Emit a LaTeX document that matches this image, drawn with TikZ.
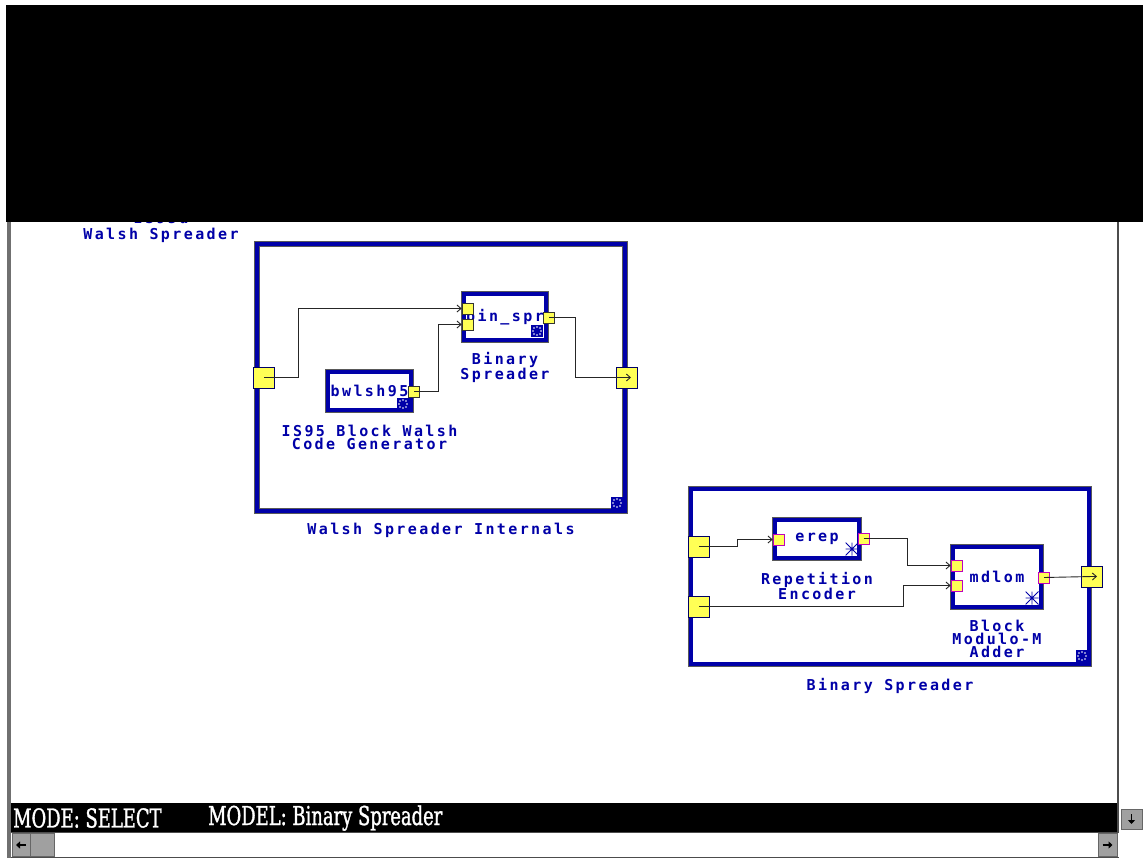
\documentclass[tikz,border=0pt]{standalone}
\usepackage{fontspec}
\usepackage{xcolor}
\usepackage{tikz}
\usetikzlibrary{positioning,arrows.meta,calc}
\newfontfamily\pixfont[LetterSpace=16]{DejaVu Sans Mono Bold}
\newfontfamily\barfont[FakeStretch=0.69, FakeBold=1.2]{DejaVu Serif}
\definecolor{sysblue}{RGB}{0,0,168}
\definecolor{portyellow}{RGB}{255,255,85}
\definecolor{portpink}{RGB}{190,0,190}
\definecolor{chrome}{RGB}{160,160,160}

\begin{document}
\begin{tikzpicture}[
    x=1pt, y=-1pt,
    font=\pixfont\fontsize{15}{13}\selectfont,
    frame_box/.style={draw=gray!70!black, double=sysblue, double distance=4pt, line width=0.7pt, fill=white, inner sep=0pt, outer sep=0pt, text=sysblue},
    big_port/.style={draw=sysblue!60!black, fill=portyellow, minimum size=21pt, inner sep=0pt, line width=0.7pt},
    small_port/.style={draw=black!80, fill=portyellow, minimum size=11pt, inner sep=0pt, line width=0.7pt},
    pink_port/.style={small_port, draw=portpink},
    lbl/.style={text=sysblue, align=center, inner sep=0pt},
    icon/.style={fill=sysblue, minimum size=12pt, inner sep=0pt,
        path picture={\foreach \dx/\dy in {-3/-3,3/-3,-3/3,3/3,0/-4,0/4,-4/0,4/0}
            \fill[white] ($(path picture bounding box.center)+(\dx,\dy)$) circle (0.9pt);}},
    asterisk/.style={minimum size=13pt, inner sep=0pt,
        path picture={\draw[sysblue, line width=0.8pt]
            (path picture bounding box.north) -- (path picture bounding box.south)
            (path picture bounding box.west) -- (path picture bounding box.east)
            (path picture bounding box.north west) -- (path picture bounding box.south east)
            (path picture bounding box.north east) -- (path picture bounding box.south west);}},
    wire/.style={draw=black!85, line width=0.9pt, -{Straight Barb[length=4pt,width=7pt]}}
]
\useasboundingbox (0,0) rectangle (1143,860);
\fill[white] (0,0) rectangle (1143,860);

% clipped title of the parent model
\node (parentTop) [lbl] at (161,217.5) {IS95d};
\node (parentName) [lbl] at (161,235) {Walsh Spreader};

% window chrome
\fill[black] (6,5) rectangle (1143,222);
\fill[chrome!70!black] (7,222) rectangle (11,858);
\fill[black!70] (1117,222) rectangle (1119,832);
\fill[black] (11,803) rectangle (1117,832);
\node (modeText) [anchor=west, text=white, inner sep=0pt, font=\barfont\fontsize{26}{26}\selectfont] at (13,818) {MODE: SELECT};
\node (modelText) [anchor=west, text=white, inner sep=0pt, font=\barfont\fontsize{26}{26}\selectfont] at (208,818) {MODEL: Binary Spreader};
\draw[black!70, line width=0.8pt] (11,832) -- (1119,832) (11,857) -- (1119,857);
\node (btnDown) [fill=chrome, draw=black!60, minimum width=21pt, minimum height=20pt, inner sep=0pt] at (1131.5,819) {};
\draw[-{Triangle[length=4pt,width=7pt]}, line width=1.6pt] ([yshift=5pt]btnDown.center) -- ([yshift=-5pt]btnDown.center);
\node (btnLeft) [fill=chrome, draw=black!60, minimum width=18pt, minimum height=23pt, inner sep=0pt] at (21,845) {};
\draw[-{Triangle[length=4pt,width=7pt]}, line width=1.6pt] ([xshift=5pt]btnLeft.center) -- ([xshift=-5pt]btnLeft.center);
\node (thumb) [fill=chrome, draw=black!60, minimum width=24pt, minimum height=23pt, inner sep=0pt, right=0pt of btnLeft] {};
\node (btnRight) [fill=chrome, draw=black!60, minimum width=19pt, minimum height=23pt, inner sep=0pt] at (1107.5,845) {};
\draw[-{Triangle[length=4pt,width=7pt]}, line width=1.6pt] ([xshift=-5pt]btnRight.center) -- ([xshift=5pt]btnRight.center);

% Walsh Spreader Internals
\node (wsi) [frame_box, minimum width=368pt, minimum height=267pt] at (441,377.5) {};
\node (wsiLabel) [lbl, below=11.7pt of wsi] {Walsh Spreader Internals};
\node (wsiIcon) [icon] at (617,503) {};

\node (binspr) [frame_box, minimum width=82.6pt, minimum height=46.6pt] at (505,317) {bin\_spr};
\node (binsprLabel) [lbl, below=11.7pt of binspr] {Binary\\Spreader};
\node (binsprIcon) [icon] at (537,331) {};

\node (bwlsh) [frame_box, minimum width=83.6pt, minimum height=38.6pt] at (369.5,391) {bwlsh95};
\node (bwlshLabel) [lbl, below=14.7pt of bwlsh] {IS95 Block Walsh\\Code Generator};
\node (bwlshIcon) [icon] at (403,404) {};

\node (wsiIn) [big_port] at (264,377.5) {};
\node (wsiOut) [big_port] at (627,377.5) {};
\node (bsIn1) [small_port] at (467.5,308.5) {};
\node (bsIn2) [small_port] at (467.5,324.5) {};
\node (bsOut) [small_port] at (549,317.5) {};
\node (bwOut) [small_port] at (414,391.5) {};

\draw [wire] (wsiIn.center) -- ++(34,0) |- (bsIn1.west);
\draw [wire] (bwOut.center) -- ++(24,0) |- (bsIn2.west);
\draw [wire, shorten >=-4pt] (bsOut.center) -- ++(26,0) |- (wsiOut.center);

% Binary Spreader
\node (bsx) [frame_box, minimum width=398.6pt, minimum height=175.6pt] at (890,576.5) {};
\node (bsxLabel) [lbl, below=13.7pt of bsx] {Binary Spreader};
\node (bsxIcon) [icon] at (1082,656) {};

\node (erep) [frame_box, minimum width=84.6pt, minimum height=38.6pt] at (817,539) {erep};
\node (erepLabel) [lbl, below=13.7pt of erep] {Repetition\\Encoder};
\node (erepMark) [asterisk] at (852,549) {};

\node (mdlom) [frame_box, minimum width=88.6pt, minimum height=60.6pt] at (997,577) {mdlom};
\node (mdlomLabel) [lbl, below=12.7pt of mdlom] {Block\\Modulo-M\\Adder};
\node (mdlomMark) [asterisk] at (1032,598) {};

\node (bsxIn1) [big_port] at (699,546.5) {};
\node (bsxIn2) [big_port] at (699,606.5) {};
\node (bsxOut) [big_port] at (1092,576.5) {};
\node (erepIn) [pink_port] at (778.5,539.5) {};
\node (erepOut) [pink_port] at (863.5,538.5) {};
\node (mdIn1) [pink_port] at (956.5,565.5) {};
\node (mdIn2) [pink_port] at (956.5,585.5) {};
\node (mdOut) [pink_port] at (1044,577.5) {};

\draw [wire] (bsxIn1.center) -- ++(38,0) |- (erepIn.west);
\draw [wire] (erepOut.center) -- ++(44,0) |- (mdIn1.west);
\draw [wire] (bsxIn2.center) -- ++(204,0) |- (mdIn2.west);
\draw [wire, shorten >=-5pt] (mdOut.center) -- (bsxOut.center);

\end{tikzpicture}
\end{document}
